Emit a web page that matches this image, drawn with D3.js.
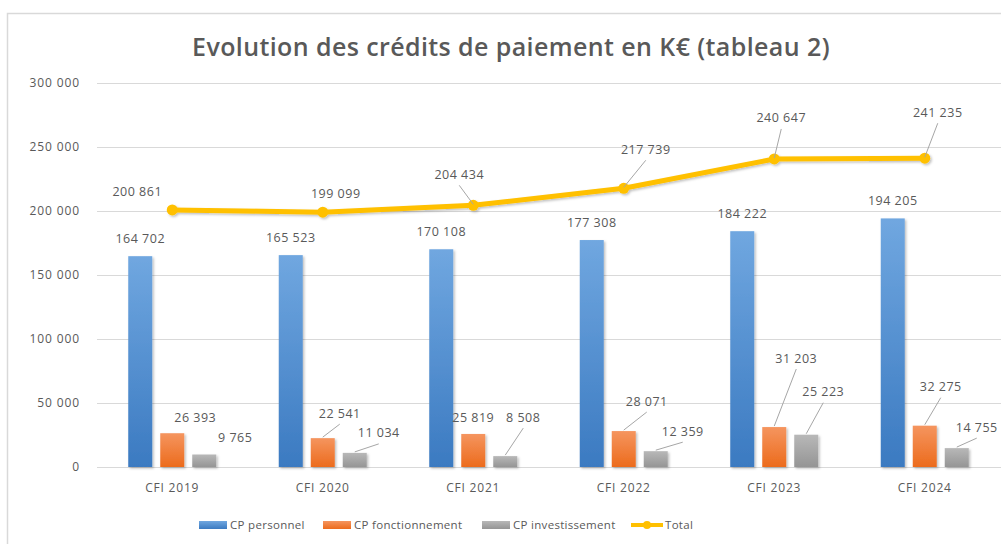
<!DOCTYPE html>
<html lang="fr">
<head>
    <meta charset="UTF-8">
    <title>Evolution des crédits de paiement</title>
    <style>
        body { margin: 0; background: #fff; }
        svg { display: block; font-family: "Open Sans", sans-serif; }
        .tick-label, .cat-label, .data-label, .legend-label { fill: #595959; }
        .grid line { stroke: #d9d9d9; stroke-width: 1; }
        .leader { stroke: #a6a6a6; stroke-width: 1; fill: none; }
    </style>
</head>
<body>
    <div id="chart"></div>

    <script src="https://d3js.org/d3.v7.min.js"></script>
    <script>
        // data
        const categories = ["CFI 2019", "CFI 2020", "CFI 2021", "CFI 2022", "CFI 2023", "CFI 2024"];
        const cpPersonnel = [164702, 165523, 170108, 177308, 184222, 194205];
        const cpFonctionnement = [26393, 22541, 25819, 28071, 31203, 32275];
        const cpInvestissement = [9765, 11034, 8508, 12359, 25223, 14755];
        const total = [200861, 199099, 204434, 217739, 240647, 241235];
        const yTicks = [0, 50000, 100000, 150000, 200000, 250000, 300000];
        const seriesNames = ["CP personnel", "CP fonctionnement", "CP investissement", "Total"];

        // manual label placement (offset from mark anchor, px) + whether a leader line is drawn
        const labelOffsets = {
            personnel: categories.map(() => [0, -18, false]),
            fonctionnement: [[23, -16, false], [17, -25, true], [0, -16, false], [23, -30, true], [22, -69, true], [16, -39, true]],
            investissement: [[31, -17, false], [24, -20, true], [18, -39, true], [27, -20, true], [17, -43, true], [20, -21, true]],
            total: [[-35, -18, false], [13, -19, false], [-14, -31, true], [22, -39, true], [7, -41, true], [13, -46, true]]
        };

        const width = 1001, height = 544;
        const margin = { left: 97, right: 1, top: 83, bottom: 77 };
        const fmt = v => d3.format(",")(v).replace(/,/g, " ");

        const svg = d3.select("#chart").append("svg")
            .attr("width", width)
            .attr("height", height);

        const defs = svg.append("defs");
        const grads = [
            { id: "g-blue", top: "#70a7e0", bottom: "#3b7ac1" },
            { id: "g-orange", top: "#f5955f", bottom: "#ec6b1c" },
            { id: "g-gray", top: "#b8b8b8", bottom: "#959595" }
        ];
        grads.forEach(g => {
            const lg = defs.append("linearGradient").attr("id", g.id)
                .attr("x1", 0).attr("y1", 0).attr("x2", 0).attr("y2", 1);
            lg.append("stop").attr("offset", "0%").attr("stop-color", g.top);
            lg.append("stop").attr("offset", "100%").attr("stop-color", g.bottom);
        });
        const shadow = defs.append("filter").attr("id", "shadow")
            .attr("x", "-20%").attr("y", "-20%").attr("width", "150%").attr("height", "150%");
        shadow.append("feDropShadow").attr("dx", 1.5).attr("dy", 1.5)
            .attr("stdDeviation", 1.2).attr("flood-color", "#000").attr("flood-opacity", 0.25);

        // outer chart border
        svg.append("rect")
            .attr("x", 7.5).attr("y", 13.5)
            .attr("width", 1010).attr("height", 560)
            .attr("fill", "none").attr("stroke", "#d9d9d9").attr("stroke-width", 1.5);

        svg.append("text")
            .attr("x", 511).attr("y", 56)
            .attr("text-anchor", "middle")
            .attr("font-size", 25)
            .attr("font-weight", 600)
            .attr("fill", "#595959")
            .attr("letter-spacing", 0.4)
            .text("Evolution des crédits de paiement en K€ (tableau 2)");

        const x = d3.scaleBand()
            .domain(categories)
            .range([margin.left, width - margin.right]);

        const xInner = d3.scaleBand()
            .domain([0, 1, 2])
            .range([-44, 44])
            .paddingInner(0.25);

        const y = d3.scaleLinear()
            .domain([0, 300000])
            .range([height - margin.bottom, margin.top]);

        // gridlines
        const grid = svg.append("g").attr("class", "grid");
        grid.selectAll("line")
            .data(yTicks)
            .enter().append("line")
            .attr("x1", margin.left).attr("x2", width)
            .attr("y1", d => Math.round(y(d)) + 0.5)
            .attr("y2", d => Math.round(y(d)) + 0.5);

        svg.append("g").selectAll("text")
            .data(yTicks)
            .enter().append("text")
            .attr("class", "tick-label")
            .attr("x", 80)
            .attr("y", d => y(d) + 4)
            .attr("text-anchor", "end")
            .attr("font-size", 12)
            .attr("letter-spacing", 0.9)
            .text(d => fmt(d));

        // category labels
        svg.append("g").selectAll("text")
            .data(categories)
            .enter().append("text")
            .attr("class", "cat-label")
            .attr("x", d => x(d) + x.bandwidth() / 2)
            .attr("y", 492)
            .attr("text-anchor", "middle")
            .attr("font-size", 12)
            .attr("letter-spacing", 0.8)
            .text(d => d);

        const barSeries = [
            { key: "personnel", values: cpPersonnel, fill: "url(#g-blue)" },
            { key: "fonctionnement", values: cpFonctionnement, fill: "url(#g-orange)" },
            { key: "investissement", values: cpInvestissement, fill: "url(#g-gray)" }
        ];

        const cx = (i, s) => x(categories[i]) + x.bandwidth() / 2 + xInner(s) + xInner.bandwidth() / 2;

        barSeries.forEach((s, si) => {
            svg.append("g").attr("filter", "url(#shadow)")
                .selectAll("rect")
                .data(s.values)
                .enter().append("rect")
                .attr("x", (d, i) => cx(i, si) - xInner.bandwidth() / 2)
                .attr("y", d => y(d))
                .attr("width", xInner.bandwidth())
                .attr("height", d => y(0) - y(d))
                .attr("fill", s.fill);
        });

        // total line
        const pts = total.map((v, i) => [x(categories[i]) + x.bandwidth() / 2, y(v)]);
        const lineG = svg.append("g").attr("filter", "url(#shadow)");
        lineG.append("path")
            .datum(pts)
            .attr("d", d3.line())
            .attr("fill", "none")
            .attr("stroke", "#ffc000")
            .attr("stroke-width", 5)
            .attr("stroke-linejoin", "round");

        // data labels with optional leader lines
        const labels = svg.append("g");
        function addLabels(values, anchors, offsets) {
            values.forEach((v, i) => {
                const [ax, ay] = anchors[i];
                const [dx, dy, lead] = offsets[i];
                const lx = ax + dx, ly = ay + dy;
                if (lead) {
                    labels.append("line").attr("class", "leader")
                        .attr("x1", lx).attr("y1", ly + 11)
                        .attr("x2", ax).attr("y2", ay - 1);
                }
                labels.append("text")
                    .attr("class", "data-label")
                    .attr("x", lx).attr("y", ly + 4.5)
                    .attr("text-anchor", "middle")
                    .attr("font-size", 12.5)
                    .attr("letter-spacing", 0.5)
                    .text(fmt(v));
            });
        }
        barSeries.forEach((s, si) => {
            addLabels(s.values, s.values.map((v, i) => [cx(i, si), y(v)]), labelOffsets[s.key]);
        });
        addLabels(total, pts, labelOffsets.total);

        lineG.selectAll("circle")
            .data(pts)
            .enter().append("circle")
            .attr("cx", d => d[0]).attr("cy", d => d[1])
            .attr("r", 5.5)
            .attr("fill", "#ffc000");

        // legend
        const legendX = [199, 323, 482, 631];
        const legendFills = ["url(#g-blue)", "url(#g-orange)", "url(#g-gray)"];
        const legend = svg.append("g");
        seriesNames.forEach((name, i) => {
            const g = legend.append("g").attr("transform", `translate(${legendX[i]},525)`);
            if (i < 3) {
                g.append("rect").attr("x", 0).attr("y", -4).attr("width", 28).attr("height", 8)
                    .attr("fill", legendFills[i]);
                g.append("text").attr("class", "legend-label")
                    .attr("x", 31).attr("y", 4).attr("font-size", 11.5).attr("letter-spacing", 0.3).text(name);
            } else {
                g.append("line").attr("x1", 0).attr("x2", 32).attr("y1", 0).attr("y2", 0)
                    .attr("stroke", "#ffc000").attr("stroke-width", 4);
                g.append("circle").attr("cx", 16).attr("cy", 0).attr("r", 4).attr("fill", "#ffc000");
                g.append("text").attr("class", "legend-label")
                    .attr("x", 34).attr("y", 4).attr("font-size", 11.5).attr("letter-spacing", 0.3).text(name);
            }
        });
    </script>
</body>
</html>
